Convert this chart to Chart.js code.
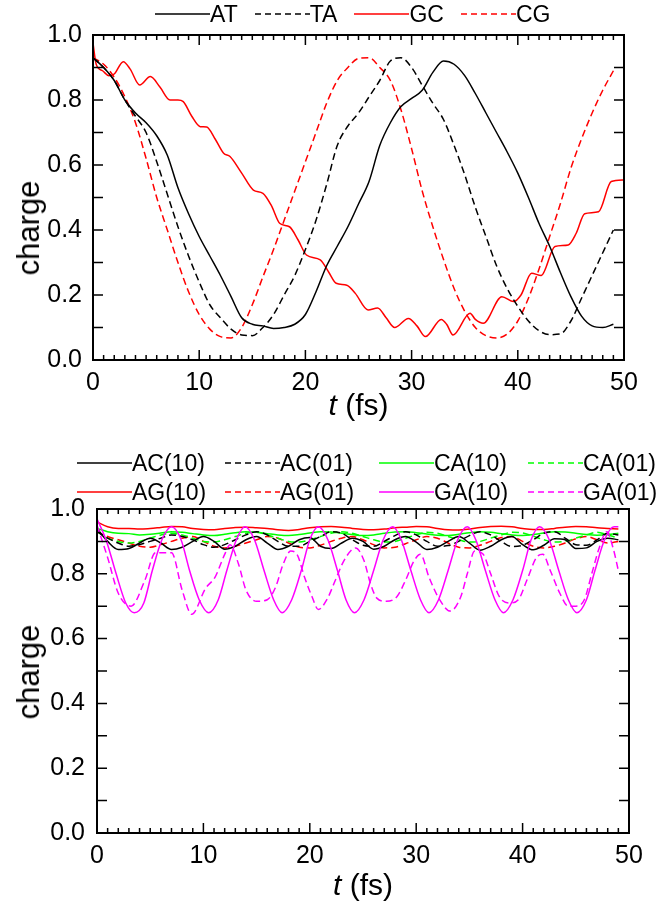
<!DOCTYPE html>
<html>
<head>
<meta charset="utf-8">
<script src="https://cdn.jsdelivr.net/npm/chart.js@4.4.1/dist/chart.umd.min.js"></script>
<style>
  body { margin: 0; background: #fff; width: 665px; height: 915px; overflow: hidden; position: relative;
         font-family: "Liberation Sans", Arial, sans-serif; color: #000; }
  .box { position: absolute; left: 0; width: 665px; }
  .legend { position: absolute; font-size: 23px; line-height: 26px; white-space: nowrap; }
  .legend .item { display: flex; align-items: center; }
  .legend svg { display: block; }
  .xt { position: absolute; font-size: 30px; line-height: 34px; text-align: center; }
  .yt { position: absolute; font-size: 31px; line-height: 34px; white-space: nowrap;
        transform: translate(-50%, -50%) rotate(-90deg); }
</style>
</head>
<body>
<div class="box" style="top:0;height:440px"><canvas id="c1"></canvas></div>
<div class="box" style="top:440px;height:475px"><canvas id="c2"></canvas></div>
<div class="legend" id="lg1" style="left:155px;top:1px;display:flex;gap:17px"></div>
<div class="legend" id="lg2" style="left:77px;top:450px;display:grid;grid-template-columns:148px 154px 149px 140px;row-gap:3px"></div>
<div class="xt" style="left:93px;width:531px;top:388px"><i>t</i> (fs)</div>
<div class="xt" style="left:97px;width:532px;top:868px"><i>t</i> (fs)</div>
<div class="yt" style="left:29px;top:228px">charge</div>
<div class="yt" style="left:29px;top:672px">charge</div>
<script>
// ---- top panel ----
const topLabels = ["AT", "TA", "GC", "CG"];
const timeTop = [0,1,2,3,4,5,6,7,8,9,10,11,12,13,14,15,16,17,18,19,20,21,22,23,24,25,26,27,28,29,30,31,32,33,34,35,36,37,38,39,40,41,42,43,44,45,46,47,48,49];
const atCharge = [0.93,0.90,0.86,0.80,0.76,0.73,0.69,0.63,0.53,0.45,0.38,0.32,0.26,0.195,0.13,0.11,0.105,0.097,0.10,0.11,0.14,0.21,0.29,0.35,0.41,0.48,0.55,0.66,0.73,0.78,0.805,0.83,0.885,0.92,0.91,0.875,0.82,0.76,0.70,0.64,0.575,0.50,0.42,0.35,0.27,0.195,0.135,0.105,0.10,0.11];
const taCharge = [0.93,0.90,0.86,0.80,0.75,0.70,0.61,0.51,0.41,0.32,0.24,0.17,0.13,0.095,0.077,0.075,0.10,0.14,0.20,0.26,0.34,0.43,0.54,0.66,0.72,0.76,0.81,0.86,0.92,0.93,0.90,0.845,0.79,0.74,0.66,0.57,0.47,0.38,0.29,0.22,0.165,0.12,0.09,0.078,0.08,0.12,0.19,0.26,0.33,0.40];
const cgCharge = [0.93,0.91,0.87,0.81,0.73,0.62,0.50,0.40,0.30,0.21,0.14,0.095,0.072,0.068,0.10,0.17,0.256,0.34,0.43,0.52,0.61,0.70,0.79,0.86,0.90,0.928,0.93,0.90,0.86,0.77,0.65,0.52,0.41,0.31,0.22,0.15,0.10,0.075,0.068,0.08,0.12,0.19,0.28,0.38,0.48,0.59,0.68,0.76,0.83,0.89];
const gcTime = [0,0.3,0.9,1.5,2.0,2.85,3.5,4.4,5.4,6.3,7.25,8.0,8.5,9.3,10.1,10.7,11.5,12.3,12.9,14.0,15.1,16.0,16.8,17.6,18.5,19.3,20.1,21.4,22.2,22.9,23.9,24.7,25.9,26.8,27.6,28.4,29.7,30.5,31.3,32.8,33.3,33.9,35.5,36.0,36.75,38.5,39.6,40.3,41.3,42.2,43.5,44.75,45.5,46.3,47.6,48.8,50];
const gcCharge = [0.975,0.91,0.89,0.875,0.88,0.918,0.895,0.846,0.872,0.84,0.80,0.80,0.795,0.75,0.718,0.717,0.68,0.636,0.626,0.575,0.523,0.513,0.475,0.42,0.41,0.37,0.323,0.308,0.27,0.236,0.23,0.205,0.154,0.16,0.13,0.10,0.128,0.105,0.072,0.125,0.11,0.077,0.144,0.125,0.113,0.195,0.18,0.20,0.267,0.26,0.349,0.354,0.39,0.45,0.456,0.549,0.554];

// ---- bottom panel ----
const botLabels = ["AC(10)", "AC(01)", "CA(10)", "CA(01)", "AG(10)", "AG(01)", "GA(10)", "GA(01)"];
const timeBot = [0,1,2,3,4,5,6,7,8,9,10,11,12,13,14,15,16,17,18,19,20,21,22,23,24,25,26,27,28,29,30,31,32,33,34,35,36,37,38,39,40,41,42,43,44,45,46,47,48,49];
const ac10 = [0.94,0.90,0.875,0.878,0.895,0.91,0.895,0.875,0.882,0.90,0.915,0.90,0.876,0.885,0.905,0.915,0.895,0.875,0.885,0.905,0.912,0.885,0.878,0.895,0.91,0.90,0.876,0.885,0.905,0.915,0.898,0.875,0.882,0.90,0.915,0.895,0.873,0.885,0.905,0.915,0.89,0.874,0.888,0.908,0.905,0.878,0.88,0.90,0.91,0.905];
const ac01 = [0.93,0.91,0.895,0.885,0.89,0.90,0.91,0.92,0.915,0.905,0.89,0.882,0.89,0.905,0.92,0.93,0.92,0.90,0.885,0.885,0.90,0.915,0.93,0.925,0.905,0.888,0.885,0.90,0.918,0.93,0.92,0.90,0.885,0.887,0.90,0.918,0.93,0.92,0.90,0.884,0.888,0.905,0.925,0.93,0.91,0.89,0.888,0.905,0.925,0.92];
const ca10 = [0.94,0.93,0.925,0.924,0.92,0.922,0.926,0.93,0.928,0.924,0.92,0.918,0.922,0.927,0.93,0.928,0.924,0.92,0.918,0.921,0.926,0.93,0.929,0.925,0.921,0.918,0.92,0.925,0.929,0.93,0.927,0.923,0.919,0.918,0.922,0.927,0.93,0.928,0.924,0.92,0.918,0.921,0.926,0.93,0.929,0.925,0.921,0.919,0.921,0.925];
const ca01 = [0.93,0.91,0.90,0.895,0.90,0.91,0.92,0.925,0.92,0.91,0.90,0.898,0.905,0.915,0.925,0.928,0.92,0.91,0.90,0.898,0.905,0.915,0.925,0.93,0.925,0.915,0.905,0.898,0.90,0.91,0.92,0.928,0.925,0.915,0.905,0.898,0.90,0.91,0.92,0.928,0.926,0.916,0.905,0.898,0.90,0.91,0.92,0.928,0.92,0.91];
const ag10 = [0.96,0.945,0.94,0.94,0.938,0.94,0.943,0.946,0.945,0.94,0.937,0.936,0.94,0.943,0.944,0.942,0.94,0.936,0.934,0.937,0.942,0.945,0.946,0.944,0.94,0.937,0.936,0.938,0.942,0.944,0.946,0.945,0.94,0.936,0.935,0.938,0.943,0.946,0.947,0.945,0.94,0.937,0.937,0.94,0.944,0.946,0.945,0.942,0.94,0.938];
const ag01 = [0.93,0.915,0.905,0.895,0.885,0.882,0.89,0.90,0.91,0.915,0.90,0.885,0.88,0.885,0.895,0.905,0.915,0.91,0.895,0.882,0.88,0.888,0.90,0.91,0.915,0.905,0.89,0.88,0.882,0.893,0.905,0.915,0.91,0.895,0.882,0.88,0.888,0.90,0.912,0.915,0.90,0.885,0.88,0.885,0.895,0.908,0.915,0.905,0.895,0.90];
const ga10Time = [0,0.9,1.8,2.7,3.5,4.4,5.2,6.1,7.0,7.9,8.7,9.6,10.5,11.4,12.2,13.1,13.9,14.8,15.7,16.6,17.4,18.3,19.2,20.0,20.8,21.7,22.6,23.4,24.2,25.1,26.0,26.9,27.8,28.6,29.5,30.4,31.2,32.1,33.0,33.9,34.8,35.6,36.5,37.4,38.2,39.1,40.0,40.8,41.6,42.5,43.4,44.3,45.1,46.0,46.8,47.7,48.6,49.0];
const ga10 = [0.97,0.90,0.80,0.71,0.68,0.71,0.81,0.905,0.945,0.905,0.81,0.72,0.68,0.72,0.81,0.905,0.945,0.905,0.81,0.72,0.68,0.72,0.81,0.905,0.945,0.905,0.81,0.72,0.68,0.72,0.81,0.905,0.945,0.905,0.81,0.72,0.68,0.72,0.81,0.905,0.945,0.905,0.81,0.72,0.68,0.72,0.81,0.905,0.945,0.905,0.81,0.72,0.68,0.72,0.81,0.905,0.945,0.945];
const ga01Time = [0,1,2,3.2,4.5,5.5,7.0,8.0,8.9,10.2,11.1,12.0,12.5,13.3,14.0,15.0,16.0,16.8,17.5,18.2,18.8,19.5,20.2,20.8,21.6,22.4,23.2,24.3,25.1,25.7,26.3,27.2,28.2,29.0,29.8,30.4,31.2,32.2,33.2,34.2,34.8,35.5,36.3,37.0,37.8,38.8,39.6,40.4,41.3,41.9,42.6,43.5,44.3,45.0,45.8,46.5,47.2,47.9,48.5,49.0];
const ga01 = [0.95,0.85,0.74,0.70,0.78,0.865,0.865,0.75,0.675,0.755,0.79,0.86,0.89,0.83,0.75,0.715,0.72,0.76,0.83,0.87,0.86,0.79,0.73,0.69,0.72,0.78,0.84,0.88,0.84,0.77,0.725,0.715,0.73,0.78,0.84,0.86,0.79,0.72,0.685,0.73,0.80,0.87,0.86,0.80,0.73,0.71,0.72,0.78,0.85,0.86,0.81,0.74,0.70,0.70,0.72,0.80,0.88,0.93,0.88,0.81];

const FONT = '"Liberation Sans", Arial, sans-serif';
const pts = (ts, vs) => ts.map((t, i) => ({ x: t, y: vs[i] }));

const line = (label, ts, vs, color, dashed, order) => ({
  label, data: pts(ts, vs), borderColor: color, backgroundColor: color,
  borderWidth: 1.5, borderDash: dashed ? [7, 4] : [], pointRadius: 0,
  fill: false, cubicInterpolationMode: "monotone", order: order || 0,
});

// inward ticks on all four sides plus the box
const frame = {
  id: "frame",
  afterDatasetsDraw(chart) {
    const { ctx, chartArea: a, scales: { x, y } } = chart;
    ctx.save();
    ctx.strokeStyle = "#000";
    ctx.lineWidth = 1.5;
    ctx.beginPath();
    for (let v = 0; v <= 50; v++) {
      const px = x.getPixelForValue(v);
      const len = v % 10 === 0 ? 10 : 5;
      ctx.moveTo(px, a.bottom); ctx.lineTo(px, a.bottom - len);
      ctx.moveTo(px, a.top); ctx.lineTo(px, a.top + len);
    }
    for (let i = 0; i <= 10; i++) {
      const py = y.getPixelForValue(i / 10);
      ctx.moveTo(a.left, py); ctx.lineTo(a.left + 10, py);
      ctx.moveTo(a.right, py); ctx.lineTo(a.right - 10, py);
    }
    ctx.stroke();
    ctx.lineWidth = 2;
    ctx.strokeRect(a.left, a.top, a.right - a.left, a.bottom - a.top);
    ctx.restore();
  },
};

function options(pad, yWidth, xHeight, yPad) {
  return {
    responsive: true, maintainAspectRatio: false, animation: false, devicePixelRatio: 1,
    layout: { padding: pad },
    plugins: { legend: { display: false }, tooltip: { enabled: false } },
    scales: {
      x: {
        type: "linear", min: 0, max: 50,
        grid: { display: false, drawTicks: false }, border: { display: false },
        ticks: { stepSize: 10, padding: 8, maxRotation: 0, color: "#000", font: { family: FONT, size: 25 } },
        afterFit(s) { s.height = xHeight; },
      },
      y: {
        min: 0, max: 1,
        grid: { display: false, drawTicks: false }, border: { display: false },
        ticks: { stepSize: 0.2, padding: yPad, color: "#000", font: { family: FONT, size: 25 }, callback: v => v.toFixed(1) },
        afterFit(s) { s.width = yWidth; },
      },
    },
  };
}

new Chart(document.getElementById("c1"), {
  type: "line",
  data: {
    datasets: [
      line(topLabels[0], timeTop, atCharge, "#000000", false),
      line(topLabels[1], timeTop, taCharge, "#000000", true),
      line(topLabels[2], gcTime, gcCharge, "#ff0000", false),
      line(topLabels[3], timeTop, cgCharge, "#ff0000", true),
    ],
  },
  options: options({ top: 35, right: 41, left: 0, bottom: 0 }, 93, 80, 11),
  plugins: [frame],
});

new Chart(document.getElementById("c2"), {
  type: "line",
  data: {
    datasets: [
      line(botLabels[0], timeBot, ac10, "#000000", false, 1),
      line(botLabels[1], timeBot, ac01, "#000000", true, 1),
      line(botLabels[2], timeBot, ca10, "#00ff00", false, 1),
      line(botLabels[3], timeBot, ca01, "#00ff00", true, 1),
      line(botLabels[4], timeBot, ag10, "#ff0000", false, 1),
      line(botLabels[5], timeBot, ag01, "#ff0000", true, 1),
      line(botLabels[6], ga10Time, ga10, "#ff00ff", false, 0),
      line(botLabels[7], ga01Time, ga01, "#ff00ff", true, 0),
    ],
  },
  options: options({ top: 69, right: 36, left: 0, bottom: 0 }, 97, 82, 12),
  plugins: [frame],
});

// html legends
const topColors = ["#000000", "#000000", "#ff0000", "#ff0000"];
const botColors = ["#000000", "#000000", "#00ff00", "#00ff00", "#ff0000", "#ff0000", "#ff00ff", "#ff00ff"];

const populateLegend = (el, labels, colors) => {
  labels.forEach((l, i) => {
    const item = document.createElement("div");
    item.className = "item";
    const dash = i % 2 === 1 ? 'stroke-dasharray="6 4"' : "";
    item.innerHTML = `<svg width="55" height="6"><line x1="0" y1="3" x2="55" y2="3" stroke="${colors[i]}" stroke-width="1.6" ${dash}/></svg><span>${l}</span>`;
    el.appendChild(item);
  });
};

populateLegend(document.getElementById("lg1"), topLabels, topColors);
populateLegend(document.getElementById("lg2"), botLabels, botColors);
</script>
</body>
</html>
